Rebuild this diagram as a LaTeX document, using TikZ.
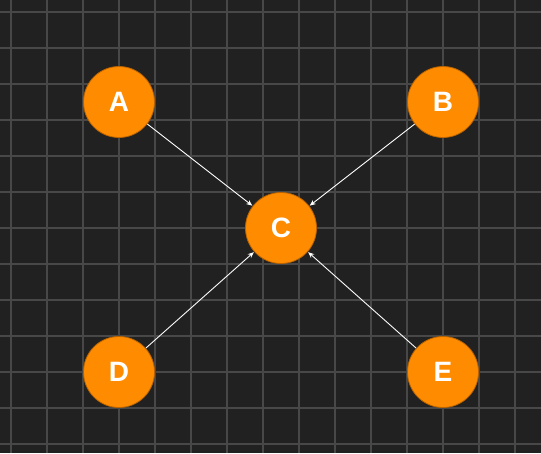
\documentclass[tikz,border=0pt]{standalone}
\usepackage{fontspec}
\setmainfont{Liberation Sans}
\usetikzlibrary{arrows.meta}
\definecolor{bg}{HTML}{212121}
\definecolor{gridc}{HTML}{484848}
\definecolor{nodefill}{HTML}{FF8C00}
\definecolor{nodeborder}{HTML}{B86200}
\tikzset{
  vertex/.style={circle, fill=nodefill, draw=nodeborder, line width=0.8pt,
    minimum size=71pt, inner sep=0pt, text=white,
    font=\fontsize{28}{28}\selectfont\bfseries},
  link/.style={draw=white, line width=0.9pt, -{Stealth[length=6pt,width=5pt]}, shorten >=0.5pt}
}
\begin{document}
\begin{tikzpicture}[x=1pt,y=-1pt]
  \fill[bg] (0,0) rectangle (541,453);
  \useasboundingbox (0,0) rectangle (541,453);
  \foreach \k in {0,...,14} {\draw[gridc, line width=1.6pt] (11+36*\k,0) -- (11+36*\k,453);}
  \foreach \k in {0,...,12} {\draw[gridc, line width=1.6pt] (0,12+36*\k) -- (541,12+36*\k);}
  \node[vertex] (A) at (119,102) {A};
  \node[vertex] (B) at (443,102) {B};
  \node[vertex] (C) at (281,228) {C};
  \node[vertex] (D) at (119,372) {D};
  \node[vertex] (E) at (443,372) {E};
  \draw[link] (A) -- (C);
  \draw[link] (B) -- (C);
  \draw[link] (D) -- (C);
  \draw[link] (E) -- (C);
\end{tikzpicture}
\end{document}
